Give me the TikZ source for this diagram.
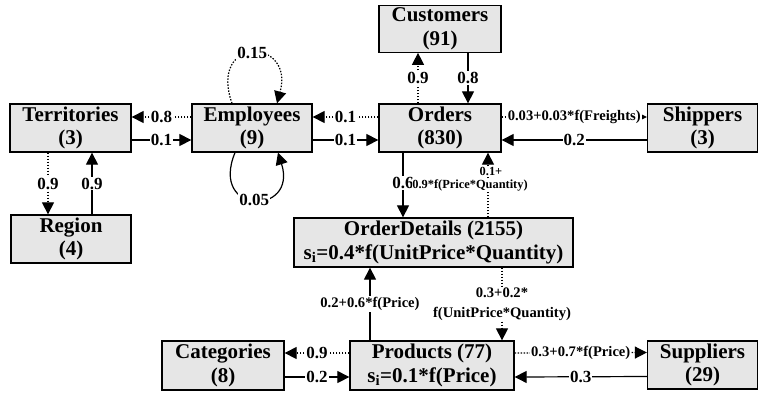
\documentclass[tikz,border=0pt]{standalone}
\usepackage{fontspec}
\setmainfont{Liberation Serif}
\usetikzlibrary{arrows.meta}
\newcommand\bxf{\fontsize{21}{23.5}\selectfont\bfseries}
\newcommand\lbA{\fontsize{17}{18}\selectfont\bfseries}
\newcommand\lbB{\fontsize{14.6}{19.5}\selectfont\bfseries}
\newcommand\lbC{\fontsize{12.4}{14}\selectfont\bfseries}
\definecolor{boxgray}{RGB}{230,230,230}
\begin{document}
\begin{tikzpicture}[x=1pt,y=-1pt,
  box/.style={draw=black, line width=1.3pt, fill=boxgray, align=center, font=\bxf, inner sep=0pt},
  sol/.style={line width=1.2pt, -{Triangle[length=12pt,width=12pt]}},
  dot/.style={line width=1.2pt, dash pattern=on 1.5pt off 1.5pt, -{Triangle[length=12pt,width=12pt]}},
  lab/.style={fill=white, inner sep=1pt, font=\lbA},
  labm/.style={fill=white, inner sep=1pt, font=\lbB, align=center},
  labs/.style={fill=white, inner sep=0.5pt, font=\lbC}]
\fill[white] (0,0) rectangle (759,392);
\useasboundingbox (0,0) rectangle (759,392);

% boxes
\node[box, minimum width=121pt, minimum height=48pt] (T) at (70.5,128) {Territories\\(3)};
\node[box, minimum width=120pt, minimum height=48pt] (E) at (252,128) {Employees\\(9)};
\node[box, minimum width=122pt, minimum height=48pt] (O) at (440,128) {Orders\\(830)};
\node[box, minimum width=122pt, minimum height=47pt] (C) at (440,28.7) {Customers\\(91)};
\node[box, minimum width=110pt, minimum height=48pt] (S) at (702.5,128) {Shippers\\(3)};
\node[box, minimum width=120pt, minimum height=48pt] (R) at (71,239) {Region\\(4)};
\node[box, minimum width=279pt, minimum height=49pt] (D) at (433.5,242.5) {OrderDetails (2155)\\s\textsubscript{i}=0.4*f(UnitPrice*Quantity)};
\node[box, minimum width=122pt, minimum height=49pt] (K) at (223,365.5) {Categories\\(8)};
\node[box, minimum width=164pt, minimum height=49pt] (P) at (432,365.5) {Products (77)\\s\textsubscript{i}=0.1*f(Price)};
\node[box, minimum width=110pt, minimum height=48pt] (U) at (702.5,365) {Suppliers\\(29)};

% Territories <-> Employees
\draw[dot] ([yshift=11pt]E.west) -- node[lab]{0.8} ([yshift=11pt]T.east);
\draw[sol] ([yshift=-12pt]T.east) -- node[lab]{0.1} ([yshift=-12pt]E.west);
% Employees <-> Orders
\draw[dot] ([yshift=11pt]O.west) -- node[lab]{0.1} ([yshift=11pt]E.east);
\draw[sol] ([yshift=-12pt]E.east) -- node[lab]{0.1} ([yshift=-12pt]O.west);
% Orders <-> Shippers
\draw[dot] ([yshift=11pt]O.east) -- node[labm]{0.03+0.03*f(Freights)} ([yshift=11pt]S.west);
\draw[sol] ([yshift=-12pt]S.west) -- node[lab]{0.2} ([yshift=-12pt]O.east);
% Orders <-> Customers
\coordinate (oc1) at ([xshift=-22pt]O.north);
\coordinate (oc2) at ([xshift=28pt]C.south);
\draw[dot] (oc1) -- node[lab]{0.9} (oc1 |- C.south);
\draw[sol] (oc2) -- node[lab]{0.8} (oc2 |- O.north);
% Territories <-> Region
\coordinate (tr1) at ([xshift=-22.5pt]T.south);
\coordinate (tr2) at ([xshift=21pt]R.north);
\draw[dot] (tr1) -- node[lab]{0.9} (tr1 |- R.north);
\draw[sol] (tr2) -- node[lab]{0.9} (tr2 |- T.south);
% Employees self loops
\draw[dot] ([xshift=-20pt]E.north) .. controls +(-24,-68) and +(18,-66) .. node[lab]{0.15} ([xshift=25pt]E.north);
\draw[sol] ([xshift=-17pt]E.south) .. controls +(-26,63) and +(20,63) .. node[lab]{0.05} ([xshift=26pt]E.south);
% Orders <-> OrderDetails
\coordinate (od1) at ([xshift=-37pt]O.south);
\coordinate (od2) at ([xshift=48pt]O.south);
\draw[sol] (od1) -- node[lab, pos=0.47]{0.6} (od1 |- D.north);
\draw[dot] (od2 |- D.north) -- node[labs, pos=0.71, xshift=3pt]{0.1+} node[labs, pos=0.5, xshift=-18pt]{0.9*f(Price*Quantity)} (od2);
% Products <-> OrderDetails
\coordinate (pd1) at ([xshift=-62pt]P.north);
\coordinate (pd2) at ([xshift=70pt]P.north);
\draw[sol] (pd1) -- node[labm]{0.2+0.6*f(Price)} (pd1 |- D.south);
\draw[dot] (pd2 |- D.south) -- node[labm]{0.3+0.2*\\f(UnitPrice*Quantity)} (pd2);
% Products <-> Categories
\draw[dot] ([yshift=12.5pt]P.west) -- node[lab]{0.9} ([yshift=12.5pt]K.east);
\draw[sol] ([yshift=-11.5pt]K.east) -- node[lab]{0.2} ([yshift=-11.5pt]P.west);
% Products <-> Suppliers
\draw[dot] ([yshift=12.5pt]P.east) -- node[labm]{0.3+0.7*f(Price)} ([yshift=12.5pt]U.west);
\draw[sol] ([yshift=-11.5pt]U.west) -- node[lab]{0.3} ([yshift=-11.5pt]P.east);
\end{tikzpicture}
\end{document}
